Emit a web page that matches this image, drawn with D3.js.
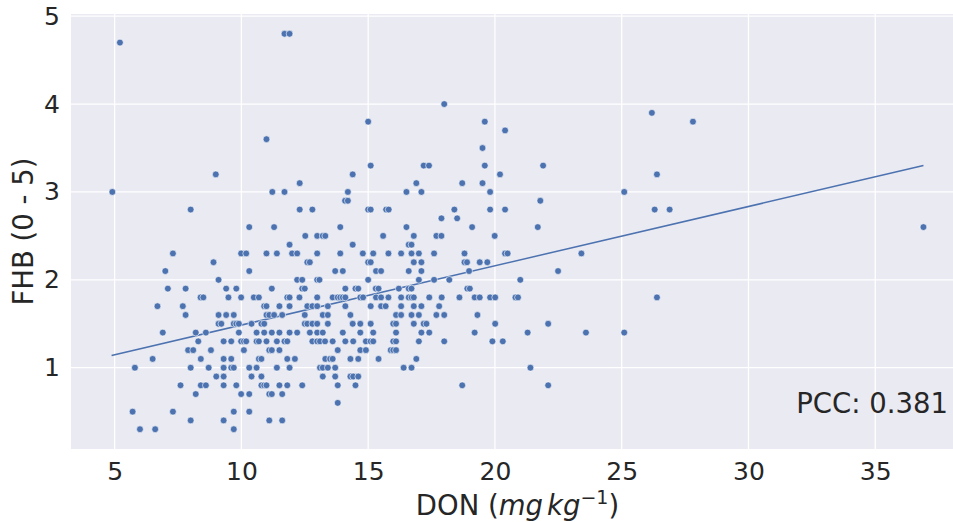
<!DOCTYPE html>
<html>
<head>
<meta charset="utf-8">
<script src="https://cdn.jsdelivr.net/npm/d3@7"></script>
<style>
    body { margin: 0; background: #fff; }
    text { font-family: 'DejaVu Sans', sans-serif; fill: #262626; }
</style>
</head>
<body>
<div id="scatter-viz"></div>
<script>
const fhbLevels = [4.8, 4.7, 4.0, 3.9, 3.8, 3.7, 3.6, 3.5, 3.3, 3.2, 3.1, 3.0, 2.9, 2.8, 2.7, 2.6, 2.5, 2.4, 2.3, 2.2, 2.1, 2.0,
    1.9, 1.8, 1.7, 1.6, 1.5, 1.4, 1.3, 1.2, 1.1, 1.0, 0.9, 0.8, 0.7, 0.6, 0.5, 0.4, 0.3];

const donAtLevel = [
    [11.70, 11.90],
    [5.21],
    [18.0],
    [26.19],
    [15.0, 19.60, 27.81],
    [20.40],
    [10.99],
    [19.51],
    [15.10, 17.19, 17.40, 19.60, 21.90],
    [8.99, 14.39, 20.20, 26.39],
    [12.30, 16.90, 18.71, 19.51],
    [4.91, 11.22, 11.70, 14.20, 16.51, 17.10, 19.81, 25.10],
    [14.09, 14.20, 21.79],
    [8.0, 12.3, 12.8, 15.0, 15.10, 15.71, 15.81, 18.40, 19.81, 20.40, 26.30, 26.89],
    [17.89, 18.51],
    [10.31, 11.29, 13.90, 16.51, 19.10, 21.69, 36.90],
    [12.52, 12.99, 13.21, 13.31, 15.59, 16.80, 17.69, 17.89, 19.99],
    [11.90, 14.39, 16.60, 16.71],
    [7.30, 9.99, 10.19, 10.99, 11.40, 12.00, 12.20, 12.99, 13.90, 14.79, 15.20, 15.80, 16.30, 16.71, 17.0, 17.60, 18.80, 20.40, 20.50, 23.41],
    [8.90, 12.60, 12.70, 15.0, 15.10, 16.80, 17.10, 18.80, 18.90, 19.40, 19.70],
    [7.00, 10.31, 13.70, 14.00, 15.31, 15.51, 16.60, 17.10, 18.98, 22.49],
    [9.10, 12.20, 12.40, 12.99, 13.08, 15.0, 17.0, 17.60, 18.20, 21.0],
    [7.10, 7.80, 9.40, 9.80, 11.20, 12.40, 12.50, 14.10, 14.50, 14.61, 15.30, 15.41, 16.21, 16.60, 16.71, 18.91, 19.01],
    [8.39, 8.50, 9.49, 9.99, 10.49, 10.69, 11.81, 11.90, 12.29, 12.99, 13.60, 13.80, 13.90, 14.00, 14.10, 14.69, 14.80,
        15.31, 15.51, 15.80, 16.30, 16.60, 16.71, 16.80, 17.41, 17.90, 18.60, 19.20, 19.40, 19.81, 20.01, 20.81, 20.91, 26.39],
    [6.69, 7.69, 10.90, 10.99, 11.50, 11.90, 12.60, 12.80, 12.99, 13.41, 14.10, 15.10, 15.51, 15.69, 16.30, 16.80, 17.10, 17.80],
    [7.80, 9.10, 9.40, 9.70, 10.99, 11.10, 11.29, 11.61, 12.50, 13.21, 13.41, 14.30, 16.10, 16.30, 16.71, 17.00, 17.69, 18.00, 19.31],
    [9.10, 9.21, 9.70, 9.80, 9.90, 10.40, 10.79, 10.90, 12.50, 12.60, 12.80, 12.99, 13.41, 14.39, 14.69, 15.10, 15.99,
        16.10, 16.80, 17.19, 17.30, 20.01, 22.10],
    [6.90, 8.20, 8.60, 9.90, 10.60, 10.90, 11.20, 11.50, 11.90, 12.20, 12.70, 12.99, 13.21, 14.00, 14.69, 15.20, 16.10,
        17.10, 17.41, 19.20, 21.29, 23.59, 25.10],
    [8.30, 9.30, 9.60, 9.99, 10.10, 10.19, 10.60, 10.69, 10.99, 11.40, 11.70, 11.81, 12.80, 12.99, 13.10, 13.30, 13.60,
        14.10, 14.41, 14.91, 15.10, 15.20, 15.99, 16.10, 17.00, 18.00, 19.90, 20.31],
    [7.90, 8.10, 8.80, 10.10, 11.10, 11.20, 11.50, 13.80, 14.69, 14.91, 15.89, 15.99, 16.10],
    [6.50, 8.40, 9.30, 9.60, 10.69, 10.79, 11.81, 12.11, 13.31, 13.50, 13.60, 14.30, 14.61, 15.41, 16.90],
    [5.80, 8.00, 8.71, 9.30, 9.60, 9.70, 10.31, 10.60, 11.40, 11.90, 13.10, 13.21, 13.41, 13.70, 16.40, 16.71, 21.40],
    [9.01, 9.30, 10.40, 10.79, 13.21, 13.70, 14.30, 14.41, 14.61],
    [7.60, 8.40, 8.60, 9.30, 9.80, 10.79, 10.90, 10.99, 11.50, 11.81, 12.40, 13.80, 14.50, 18.71, 22.10],
    [8.20, 9.99, 10.31, 11.10, 11.20, 11.61],
    [13.80],
    [5.71, 7.30, 9.70, 10.31],
    [8.00, 9.30, 11.10, 11.61],
    [6.00, 6.60, 9.70]
];

// Fitted line end points
const fitDon = [4.88, 36.9];
const fitFhb = [1.14, 3.30];

const xTicks = [5, 10, 15, 20, 25, 30, 35];
const yTicks = [1, 2, 3, 4, 5];
const pccLabel = 'PCC: 0.381';

function initializeScatter() {
    const width = 953;
    const height = 522;
    const margin = { top: 14, right: -11, bottom: 73, left: 71 };

    const innerWidth = width - margin.left - margin.right;
    const innerHeight = height - margin.top - margin.bottom;

    const points = [];
    fhbLevels.forEach((level, i) => {
        donAtLevel[i].forEach(don => points.push({ don: don, fhb: level }));
    });

    const svg = d3.select('#scatter-viz')
        .append('svg')
        .attr('width', width)
        .attr('height', height);

    const g = svg.append('g')
        .attr('transform', `translate(${margin.left},${margin.top})`);

    const xScale = d3.scaleLinear()
        .domain([3.28, 38.5])
        .range([0, innerWidth]);

    const yScale = d3.scaleLinear()
        .domain([0.075, 5.025])
        .range([innerHeight, 0]);

    // Background
    g.append('rect')
        .attr('width', innerWidth)
        .attr('height', innerHeight)
        .attr('fill', '#eaeaf2');

    // Grid lines
    g.selectAll('.x-grid')
        .data(xTicks)
        .enter()
        .append('line')
        .attr('x1', d => xScale(d))
        .attr('x2', d => xScale(d))
        .attr('y1', 0)
        .attr('y2', innerHeight)
        .style('stroke', '#fff')
        .style('stroke-width', 1.3);

    g.selectAll('.y-grid')
        .data(yTicks)
        .enter()
        .append('line')
        .attr('x1', 0)
        .attr('x2', innerWidth)
        .attr('y1', d => yScale(d))
        .attr('y2', d => yScale(d))
        .style('stroke', '#fff')
        .style('stroke-width', 1.3);

    // Axes (labels only, no lines)
    const xAxis = g.append('g')
        .attr('transform', `translate(0,${innerHeight})`)
        .call(d3.axisBottom(xScale).tickValues(xTicks).tickSize(0).tickPadding(13));

    const yAxis = g.append('g')
        .call(d3.axisLeft(yScale).tickValues(yTicks).tickFormat(d3.format('d')).tickSize(0).tickPadding(11));

    [xAxis, yAxis].forEach(axis => {
        axis.select('.domain').remove();
        axis.selectAll('text')
            .style('font-family', 'DejaVu Sans')
            .style('font-size', '25px')
            .attr('fill', '#262626');
    });

    // Axis titles
    const xLabel = svg.append('text')
        .attr('x', margin.left + innerWidth / 2)
        .attr('y', 515)
        .attr('text-anchor', 'middle')
        .style('font-size', '27.5px');
    xLabel.append('tspan').text('DON (');
    xLabel.append('tspan').style('font-style', 'italic').text('mg');
    xLabel.append('tspan').style('font-style', 'italic').attr('dx', 4).text('kg');
    xLabel.append('tspan').attr('dy', -11).style('font-size', '19px').text('\u22121');
    xLabel.append('tspan').attr('dy', 11).text(')');

    svg.append('text')
        .attr('transform', `translate(33,${margin.top + innerHeight / 2}) rotate(-90)`)
        .attr('text-anchor', 'middle')
        .style('font-size', '27.5px')
        .text('FHB (0 - 5)');

    // Regression line
    const line = d3.line()
        .x(d => xScale(d[0]))
        .y(d => yScale(d[1]));

    g.append('path')
        .datum(fitDon.map((d, i) => [d, fitFhb[i]]))
        .attr('d', line)
        .style('fill', 'none')
        .style('stroke', '#4c72b0')
        .style('stroke-width', 1.5);

    // Points
    g.selectAll('.point')
        .data(points)
        .enter()
        .append('circle')
        .attr('class', 'point')
        .attr('cx', d => xScale(d.don))
        .attr('cy', d => yScale(d.fhb))
        .attr('r', 3.4)
        .style('fill', '#4c72b0')
        .style('stroke', '#fff')
        .style('stroke-width', 0.6);

    // Correlation note
    svg.append('text')
        .attr('x', 948)
        .attr('y', 413)
        .attr('text-anchor', 'end')
        .style('font-size', '27.5px')
        .text(pccLabel);
}

initializeScatter();
</script>
</body>
</html>
